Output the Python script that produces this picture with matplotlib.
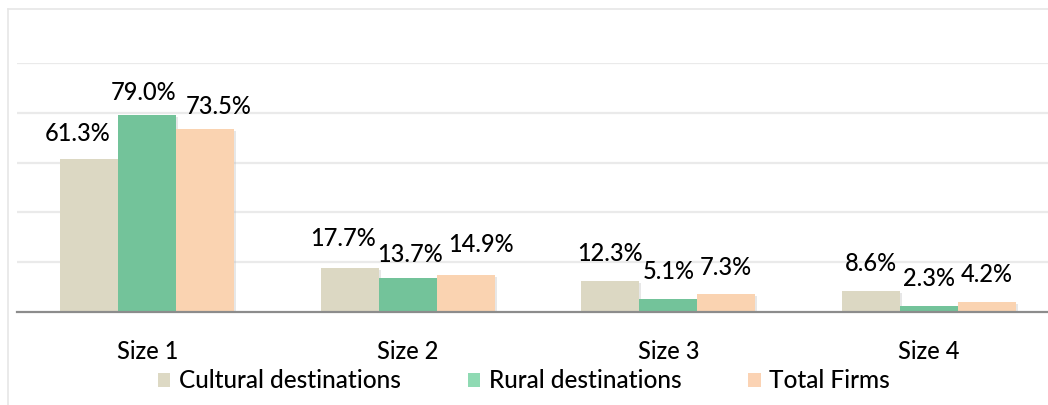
import matplotlib
matplotlib.use("Agg")
import matplotlib.pyplot as plt
import numpy as np
from matplotlib.patches import Patch
from matplotlib.lines import Line2D
import matplotlib.patheffects as pe

categories = ["Size 1", "Size 2", "Size 3", "Size 4"]
series_names = ["Cultural destinations", "Rural destinations", "Total Firms"]
cultural = [61.3, 17.7, 12.3, 8.6]
rural = [79.0, 13.7, 5.1, 2.3]
total = [73.5, 14.9, 7.3, 4.2]

bar_colors = ["#DCD8C3", "#73C39A", "#FAD3B1"]
legend_colors = ["#DDD9C4", "#8FDAB3", "#FBD3B4"]
# label offsets in pixels (dx, dy) per category, per series (layout style only)
label_offsets = [
    [(-12, 18), (-4, 15), (13, 15)],
    [(-7, 22), (2, 16), (15, 23)],
    [(0, 20), (0, 20), (0, 19)],
    [(0, 20), (0, 20), (0, 20)],
]

plt.rcParams["font.family"] = ["Lato", "DejaVu Sans"]
FW = "medium"

W, H = 1048, 405
fig = plt.figure(figsize=(W / 100, H / 100), dpi=100)
fig.patch.set_facecolor("white")

ax = fig.add_axes([17 / W, (H - 312) / H, 1042 / W, (312 - 63) / H])
ax.set_facecolor("none")

x = np.arange(len(categories))
bw = 0.2226
data = [cultural, rural, total]
shadow = [pe.SimplePatchShadow(offset=(1.5, -1.5), shadow_rgbFace="#bbbbbb", alpha=0.35), pe.Normal()]
for i, vals in enumerate(data):
    xs = x + (i - 1) * bw
    bars = ax.bar(xs, np.array(vals) / 100.0, width=bw, color=bar_colors[i],
                  zorder=3, linewidth=0)
    for b in bars:
        b.set_path_effects(shadow)
    for j, (xi, v) in enumerate(zip(xs, vals)):
        dx, dy = label_offsets[j][i]
        ax.annotate(f"{v:.1f}%", xy=(xi, v / 100.0), xytext=(dx, dy),
                    textcoords="offset pixels", ha="center", va="baseline",
                    fontsize=17, fontweight=FW, color="#000000", zorder=5)

ax.set_xlim(-0.5, len(categories) - 0.5)
ax.set_ylim(0, 1.0)
ax.set_yticks([0.2, 0.4, 0.6, 0.8, 1.0])
ax.yaxis.grid(True, color="#EAEAEA", linewidth=1.6, zorder=0)
ax.set_axisbelow(True)
ax.tick_params(axis="y", left=False, labelleft=False)
ax.set_xticks(x)
ax.set_xticklabels(categories, fontsize=17, fontweight=FW)
ax.tick_params(axis="x", length=0, pad=20)
for s in ["top", "right", "left"]:
    ax.spines[s].set_visible(False)
ax.spines["bottom"].set_color("#8C8C8C")
ax.spines["bottom"].set_linewidth(1.6)
ax.spines["bottom"].set_zorder(4)

handles = [Patch(facecolor=c, edgecolor="none") for c in legend_colors]
fig.legend(handles, series_names, loc="center", bbox_to_anchor=(0.5, (H - 381) / H),
           ncol=3, frameon=False, prop={"size": 17.6, "weight": FW},
           handlelength=0.5, handleheight=0.5,
           handletextpad=0.35, columnspacing=2.75, borderpad=0)

# chart area border (partially visible)
bc = "#E6E6E6"
fig.add_artist(Line2D([8 / W, 8 / W], [0, (H - 9) / H], color=bc, linewidth=1.2))
fig.add_artist(Line2D([8 / W, 1.0], [(H - 9) / H, (H - 9) / H], color=bc, linewidth=1.2))

fig.savefig("out.png", dpi=100, facecolor="white")
